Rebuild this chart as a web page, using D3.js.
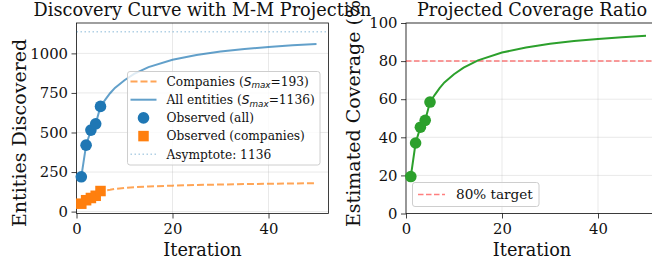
<!DOCTYPE html>
<html>
<head>
<meta charset="utf-8">
<script src="https://cdn.jsdelivr.net/npm/d3@7"></script>
<style>
  body { margin: 0; background: #fff; }
  svg { display: block; }
  svg text { font-family: "DejaVu Serif", serif; }
</style>
</head>
<body>
<div id="chart"></div>
<script>
// observed iterations
var obsIter = [1, 2, 3, 4, 5];
var obsAll = [220, 420, 515, 555, 665];
var obsCompanies = [50, 72, 86, 100, 130];
var obsCoverage = [19.4, 37.0, 45.3, 48.9, 58.5];

// observed + M-M projection
var curveIter = [1, 2, 3, 4, 5, 6, 7, 8, 10, 12, 15, 20, 25, 30, 35, 40, 45, 50];
var curveAll = [220, 420, 515, 555, 665, 708, 748, 782, 830, 870, 913, 960, 990, 1012, 1028, 1041, 1051, 1060];
var curveCompanies = [50, 72, 86, 100, 130, 134, 138, 143, 149, 154, 159, 164, 168, 171, 174, 176, 178, 180];
var curveCoverage = [19.4, 37.0, 45.3, 48.9, 58.5, 62.3, 65.8, 68.8, 73.1, 76.6, 80.4, 84.5, 87.1, 89.1, 90.5, 91.6, 92.5, 93.3];

var sMaxAll = 1136, sMaxCompanies = 193, target = 80;
var xTicks = [0, 20, 40];
var yTicksLeft = [0, 250, 500, 750, 1000];
var yTicksRight = [0, 20, 40, 60, 80, 100];

var W = 652, H = 265;
var blue = "#1f77b4", orange = "#ff7f0e", green = "#2ca02c";
var axTop = 23, axBottom = 213.5, axW = 252;

var svg = d3.select("#chart").append("svg").attr("width", W).attr("height", H);

function panel(opts) {
    var g = svg.append("g");
    var x = d3.scaleLinear().domain([0, 52.5]).range([opts.left, opts.left + axW]);
    var y = d3.scaleLinear().domain(opts.ydom).range([axBottom, axTop]);
    // grid
    g.selectAll(".gx").data(xTicks).enter().append("line")
        .attr("x1", d => x(d)).attr("x2", d => x(d)).attr("y1", axTop).attr("y2", axBottom)
        .attr("stroke", "#b0b0b0").attr("stroke-opacity", 0.35).attr("stroke-width", 0.8);
    g.selectAll(".gy").data(opts.yticks).enter().append("line")
        .attr("x1", x(0)).attr("x2", x(52.5)).attr("y1", d => y(d)).attr("y2", d => y(d))
        .attr("stroke", "#b0b0b0").attr("stroke-opacity", 0.35).attr("stroke-width", 0.8);
    // axes
    var xa = g.append("g").attr("transform", "translate(0," + axBottom + ")")
        .call(d3.axisBottom(x).tickValues(xTicks).tickFormat(d3.format("d")).tickSize(5).tickPadding(5));
    var ya = g.append("g").attr("transform", "translate(" + opts.left + ",0)")
        .call(d3.axisLeft(y).tickValues(opts.yticks).tickFormat(d3.format("d")).tickSize(5).tickPadding(3.5));
    [xa, ya].forEach(a => {
        a.select(".domain").remove();
        a.selectAll("text").attr("font-size", 14.8).style("font-family", "'DejaVu Serif'").attr("fill", "#111");
        a.selectAll("line").attr("stroke", "#111").attr("stroke-width", 0.8);
    });
    g.append("rect").attr("x", x(0)).attr("y", axTop).attr("width", axW).attr("height", axBottom - axTop)
        .attr("fill", "none").attr("stroke", "#111").attr("stroke-width", 0.8);
    g.append("text").attr("x", opts.left + axW / 2).attr("y", 16).attr("text-anchor", "middle")
        .attr("font-size", 17.7).attr("fill", "#111").text(opts.title);
    g.append("text").attr("x", opts.left + axW / 2).attr("y", 256).attr("text-anchor", "middle")
        .attr("font-size", 17.7).attr("fill", "#111").text("Iteration");
    g.append("text").attr("transform", "translate(" + opts.ylabX + "," + opts.ylabY + ") rotate(-90)")
        .attr("text-anchor", "start").attr("font-size", 19).attr("fill", "#111").text(opts.ylabel);
    return {g: g, x: x, y: y};
}

// ---- left panel
var L = panel({left: 76.5, ydom: [-12, 1192], yticks: yTicksLeft,
    title: "Discovery Curve with M-M Projection", ylabel: "Entities Discovered",
    ylabX: 26, ylabY: 227});
var line = (xs, ys) => d3.line().x((d, i) => L.x(xs[i])).y(d => L.y(d))(ys);

L.g.append("line").attr("x1", L.x(0)).attr("x2", L.x(52.5)).attr("y1", L.y(sMaxAll)).attr("y2", L.y(sMaxAll))
    .attr("stroke", blue).attr("stroke-opacity", 0.35).attr("stroke-width", 1.5).attr("stroke-dasharray", "1.5,2.5");
L.g.append("path").attr("d", line(curveIter, curveCompanies)).attr("fill", "none")
    .attr("stroke", orange).attr("stroke-opacity", 0.7).attr("stroke-width", 2).attr("stroke-dasharray", "7,3");
L.g.append("path").attr("d", line(curveIter, curveAll)).attr("fill", "none")
    .attr("stroke", blue).attr("stroke-opacity", 0.7).attr("stroke-width", 2);
L.g.selectAll(".oa").data(obsAll).enter().append("circle")
    .attr("cx", (d, i) => L.x(obsIter[i])).attr("cy", d => L.y(d)).attr("r", 5.8).attr("fill", blue);
L.g.selectAll(".oc").data(obsCompanies).enter().append("rect")
    .attr("x", (d, i) => L.x(obsIter[i]) - 5.25).attr("y", d => L.y(d) - 5.25).attr("width", 10.5).attr("height", 10.5)
    .attr("fill", orange);

// legend left
var lg = L.g.append("g").attr("transform", "translate(127.5,71.5)");
lg.append("rect").attr("width", 192.5).attr("height", 93.5).attr("rx", 2.5)
    .attr("fill", "#fff").attr("fill-opacity", 0.8).attr("stroke", "#c8c8c8").attr("stroke-width", 0.9);
var items = [
    {kind: "dash", label: ["Companies (", "S", "max", "=" + sMaxCompanies + ")"]},
    {kind: "solid", label: ["All entities (", "S", "max", "=" + sMaxAll + ")"]},
    {kind: "circle", label: ["Observed (all)"]},
    {kind: "square", label: ["Observed (companies)"]},
    {kind: "dot", label: ["Asymptote: " + sMaxAll]}
];
items.forEach((it, i) => {
    var cy = 10 + i * 18.2;
    var hx0 = 3, hx1 = 29;
    if (it.kind === "dash") lg.append("line").attr("x1", hx0).attr("x2", hx1).attr("y1", cy).attr("y2", cy)
        .attr("stroke", orange).attr("stroke-opacity", 0.7).attr("stroke-width", 2).attr("stroke-dasharray", "7,3");
    if (it.kind === "solid") lg.append("line").attr("x1", hx0).attr("x2", hx1).attr("y1", cy).attr("y2", cy)
        .attr("stroke", blue).attr("stroke-opacity", 0.7).attr("stroke-width", 2);
    if (it.kind === "circle") lg.append("circle").attr("cx", 16).attr("cy", cy).attr("r", 5.8).attr("fill", blue);
    if (it.kind === "square") lg.append("rect").attr("x", 10.75).attr("y", cy - 5.25).attr("width", 10.5).attr("height", 10.5).attr("fill", orange);
    if (it.kind === "dot") lg.append("line").attr("x1", hx0).attr("x2", hx1).attr("y1", cy).attr("y2", cy)
        .attr("stroke", blue).attr("stroke-opacity", 0.35).attr("stroke-width", 1.5).attr("stroke-dasharray", "1.5,2.5");
    var t = lg.append("text").attr("x", 39).attr("y", cy + 4.3).attr("font-size", 12.2).attr("fill", "#111");
    if (it.label.length === 1) t.text(it.label[0]);
    else {
        t.append("tspan").text(it.label[0]);
        t.append("tspan").attr("font-style", "italic").style("font-family", "'DejaVu Sans'").text(it.label[1]);
        t.append("tspan").attr("font-style", "italic").style("font-family", "'DejaVu Sans'")
            .attr("font-size", 8.8).attr("dy", 2.5).text(it.label[2]);
        t.append("tspan").attr("dy", -2.5).text(it.label[3]);
    }
});

// ---- right panel
var R = panel({left: 406, ydom: [0, 100], yticks: yTicksRight,
    title: "Projected Coverage Ratio", ylabel: "Estimated Coverage (%)",
    ylabX: 360, ylabY: 227});
R.g.append("line").attr("x1", R.x(0)).attr("x2", R.x(52.5)).attr("y1", R.y(target)).attr("y2", R.y(target))
    .attr("stroke", "red").attr("stroke-opacity", 0.5).attr("stroke-width", 1.5).attr("stroke-dasharray", "5.5,2.5");
R.g.append("path").attr("d", d3.line().x((d, i) => R.x(curveIter[i])).y(d => R.y(d))(curveCoverage))
    .attr("fill", "none").attr("stroke", green).attr("stroke-width", 2);
R.g.selectAll(".ov").data(obsCoverage).enter().append("circle")
    .attr("cx", (d, i) => R.x(obsIter[i])).attr("cy", d => R.y(d)).attr("r", 5.8).attr("fill", green);
var rg = R.g.append("g").attr("transform", "translate(412.5,182.5)");
rg.append("rect").attr("width", 126.5).attr("height", 24).attr("rx", 2.5)
    .attr("fill", "#fff").attr("fill-opacity", 0.8).attr("stroke", "#c8c8c8").attr("stroke-width", 0.9);
rg.append("line").attr("x1", 5.5).attr("x2", 32.5).attr("y1", 12).attr("y2", 12)
    .attr("stroke", "red").attr("stroke-opacity", 0.5).attr("stroke-width", 1.5).attr("stroke-dasharray", "5.5,2.5");
rg.append("text").attr("x", 43.5).attr("y", 16.7).attr("font-size", 13.6).attr("fill", "#111").text(target + "% target");
</script>
</body>
</html>
